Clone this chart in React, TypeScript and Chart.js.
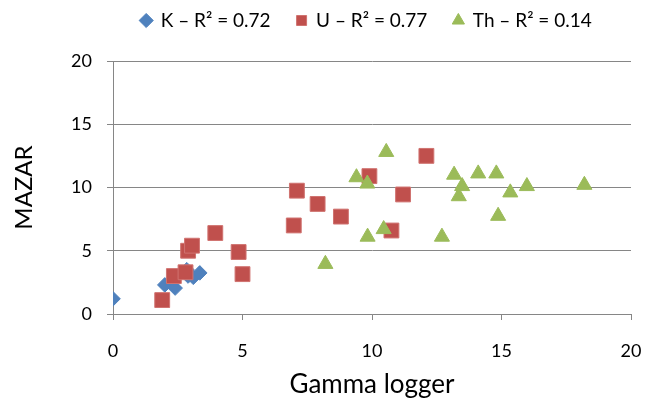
import React, { useEffect, useRef } from "react";
import { Chart, registerables } from "chart.js";

Chart.register(...registerables);

// ---- Data ----
const seriesNames = ["K – R² = 0.72", "U – R² = 0.77", "Th – R² = 0.14"];

const kX = [0, 2.0, 2.4, 2.85, 2.9, 3.1, 3.35];
const kY = [1.2, 2.3, 2.05, 3.5, 3.0, 2.9, 3.25];

const uX = [1.9, 2.35, 2.8, 2.9, 3.05, 3.95, 4.85, 5.0, 6.98, 7.1, 7.9, 8.8, 9.9, 10.75, 11.2, 12.1];
const uY = [1.1, 3.0, 3.3, 5.0, 5.4, 6.4, 4.9, 3.15, 7.0, 9.75, 8.7, 7.7, 10.9, 6.6, 9.45, 12.5];

const thX = [10.55, 9.4, 9.82, 9.83, 10.45, 8.2, 12.7, 13.17, 13.48, 13.35, 14.1, 14.8, 15.34, 14.87, 15.98, 18.2];
const thY = [12.8, 10.8, 10.3, 6.1, 6.7, 3.95, 6.1, 11.0, 10.1, 9.3, 11.1, 11.1, 9.6, 7.75, 10.1, 10.2];

const xTitle = "Gamma logger";
const yTitle = "MAZAR";
const axisMin = 0;
const xMax = 20;
const yMax = 20;
const tickStep = 5;

const toPoints = (xs: number[], ys: number[]) => xs.map((x, i) => ({ x, y: ys[i] }));

const FONT = "Lato, 'Open Sans', sans-serif";
const GRID = "#868686";

const LEGEND_H = 61;
const LEGEND_SHIFT_Y = -15;
const LEGEND_SHIFT_X = 51;

const legendAdjust = {
  id: "legendAdjust",
  beforeInit(chart: any) {
    const legend = chart.legend;
    if (!legend) return;
    const origFit = legend.fit;
    legend.fit = function () {
      origFit.call(this);
      this.height = LEGEND_H;
    };
    const origDraw = legend.draw;
    legend.draw = function (...args: any[]) {
      const ctx = this.ctx;
      ctx.save();
      ctx.translate(LEGEND_SHIFT_X, LEGEND_SHIFT_Y);
      origDraw.apply(this, args);
      ctx.restore();
    };
  },
};

export default function App() {
  const ref = useRef<HTMLCanvasElement | null>(null);

  useEffect(() => {
    if (!ref.current) return;
    const chart = new Chart(ref.current, {
      type: "scatter",
      data: {
        datasets: [
          {
            label: seriesNames[0],
            data: toPoints(kX, kY),
            pointStyle: "rectRot",
            pointRadius: 7.3,
            backgroundColor: "#4F81BD",
            borderColor: "#4F81BD",
            borderWidth: 1,
            order: 3,
          },
          {
            label: seriesNames[1],
            data: toPoints(uX, uY),
            pointStyle: "rect",
            pointRadius: 10.5,
            backgroundColor: "#C0504D",
            borderColor: "#D07370",
            borderWidth: 1,
            order: 2,
          },
          {
            label: seriesNames[2],
            data: toPoints(thX, thY),
            pointStyle: "triangle",
            pointRadius: 8.7,
            backgroundColor: "#9BBB59",
            borderColor: "#9BBB59",
            borderWidth: 1,
            order: 1,
          },
        ],
      },
      options: {
        responsive: false,
        animation: false,
        layout: { padding: { top: 0, left: 0, right: 14, bottom: 0 } },
        plugins: {
          tooltip: { enabled: false },
          legend: {
            position: "top",
            align: "center",
            labels: {
              usePointStyle: true,
              boxWidth: 10,
              boxHeight: 10,
              padding: 26,
              color: "#000",
              font: { family: FONT, size: 19 },
              sort: (a: any, b: any) => a.datasetIndex - b.datasetIndex,
            },
          },
        },
        scales: {
          x: {
            type: "linear",
            min: axisMin,
            max: xMax,
            afterFit: (s: any) => {
              s.height = 86;
              s.paddingLeft = 0;
              s.paddingRight = 0;
            },
            ticks: {
              stepSize: tickStep,
              color: "#000",
              padding: 20,
              font: { family: FONT, size: 18 },
            },
            grid: {
              drawOnChartArea: false,
              drawTicks: true,
              tickLength: 6,
              color: GRID,
            },
            border: { color: GRID, width: 1 },
            title: {
              display: true,
              text: xTitle,
              color: "#000",
              font: { family: FONT, size: 26 },
              padding: { top: 0, bottom: 0 },
            },
          },
          y: {
            type: "linear",
            min: axisMin,
            max: yMax,
            afterFit: (s: any) => {
              s.width = 113;
              s.paddingTop = 0;
              s.paddingBottom = 0;
            },
            ticks: {
              stepSize: tickStep,
              color: "#000",
              padding: 15,
              font: { family: FONT, size: 18 },
            },
            grid: {
              drawOnChartArea: true,
              drawTicks: true,
              tickLength: 6,
              color: GRID,
            },
            border: { color: GRID, width: 1 },
            title: {
              display: true,
              text: yTitle,
              color: "#000",
              font: { family: FONT, size: 24 },
              padding: { top: 10, bottom: 0 },
            },
          },
        },
      },
      plugins: [legendAdjust],
    });
    return () => chart.destroy();
  }, []);

  return (
    <div style={{ position: "fixed", left: 0, top: 0, width: 645, height: 400, background: "#fff" }}>
      <canvas ref={ref} width={645} height={400} />
    </div>
  );
}
